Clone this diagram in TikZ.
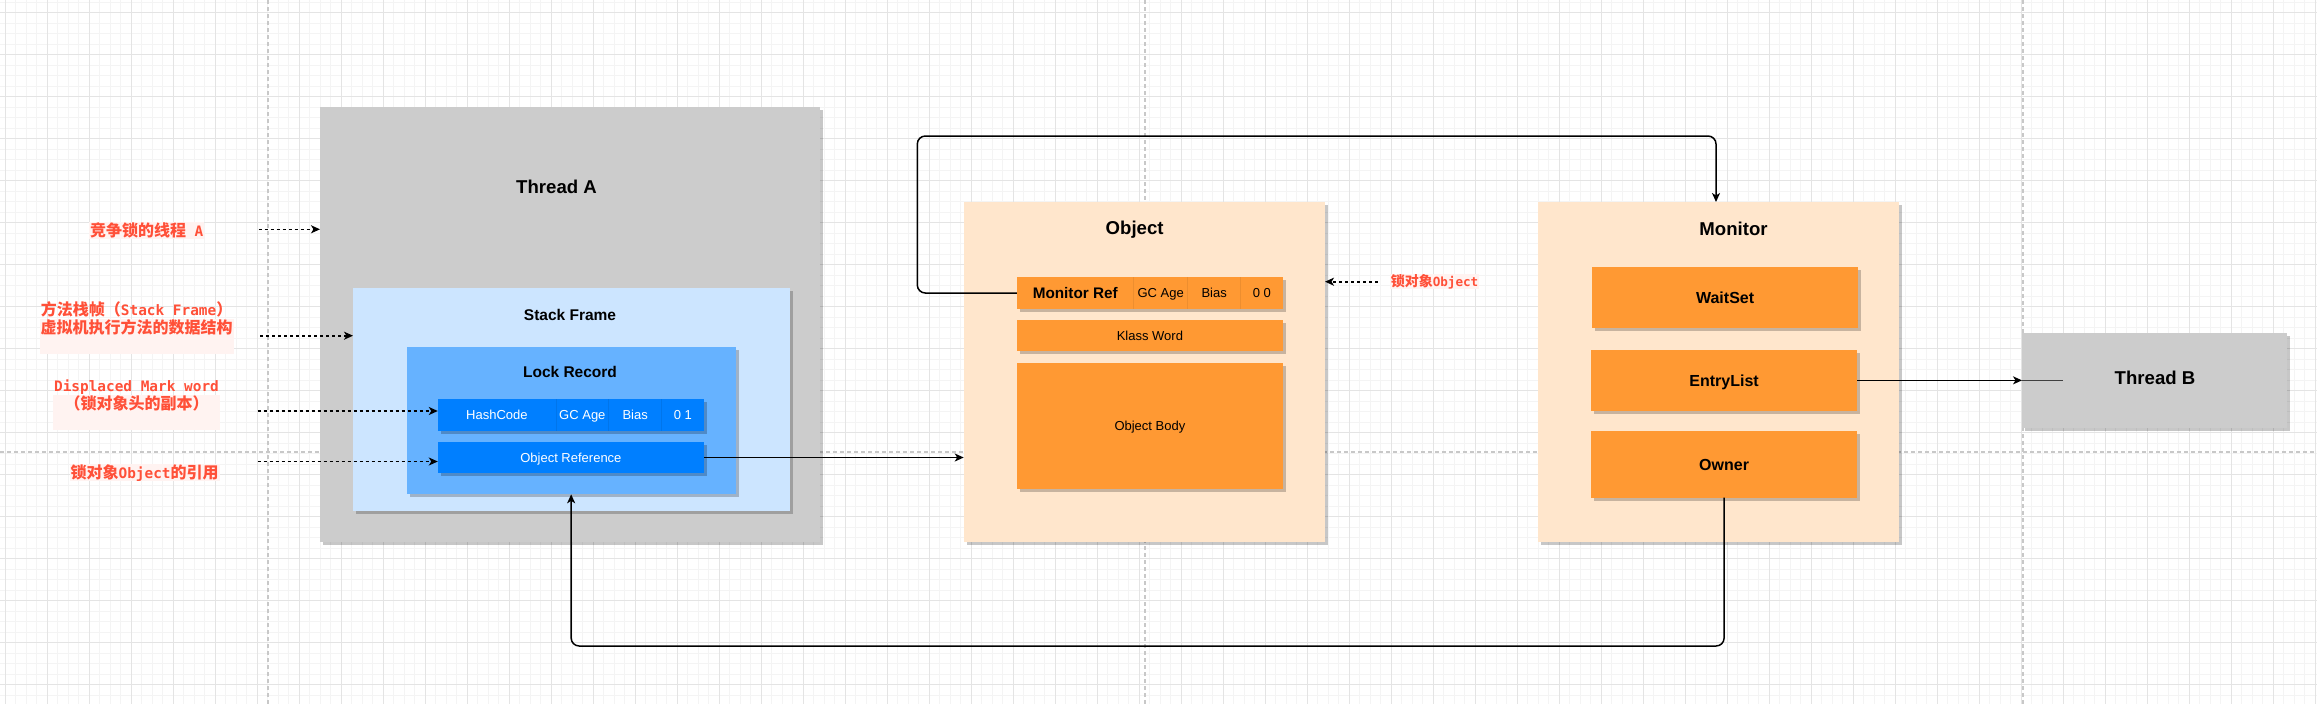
\documentclass[tikz,border=0pt]{standalone}
\usepackage{fontspec}
\setmainfont{Liberation Sans}
\newfontfamily\cjkf{Noto Sans CJK SC}
\newfontfamily\monof{DejaVu Sans Mono}[Scale=0.9]
\usetikzlibrary{arrows.meta,shadows,calc}
\definecolor{gridmin}{HTML}{F4F4F4}
\definecolor{gridmaj}{HTML}{E4E4E4}
\definecolor{pagebrk}{HTML}{C8C8C8}
\definecolor{thr}{HTML}{CCCCCC}
\definecolor{sfc}{HTML}{CCE5FF}
\definecolor{lrc}{HTML}{66B2FF}
\definecolor{bluec}{HTML}{007FFF}
\definecolor{peach}{HTML}{FFE6CC}
\definecolor{orng}{HTML}{FF9933}
\definecolor{lblc}{HTML}{FF5038}
\definecolor{lblbg}{HTML}{FFF3F1}
\tikzset{
  shd/.style={drop shadow={shadow xshift=3pt,shadow yshift=-3pt,fill=black,opacity=0.22}},
  box/.style={rectangle,inner sep=0pt,outer sep=0pt,shd},
  ttl/.style={inner sep=0pt,font=\bfseries\fontsize{18.6}{22}\selectfont,text height=13.3pt,text depth=0pt},
  sub/.style={inner sep=0pt,font=\bfseries\fontsize{15.5}{18}\selectfont,text height=11.1pt,text depth=0pt},
  btxt/.style={text=white,font=\fontsize{13}{15}\selectfont,text height=9.3pt,text depth=0pt},
  otxt/.style={text=black,font=\fontsize{13}{15}\selectfont,text height=9.3pt,text depth=0pt},
  mtxt/.style={text=black,font=\bfseries\fontsize{16}{18}\selectfont,text height=11.5pt,text depth=0pt},
  lbl/.style={text=lblc,fill=lblbg,inner xsep=1pt,inner ysep=1.5pt,align=center,font=\bfseries\fontsize{16}{18}\selectfont},
  divb/.style={line width=1pt,draw=bluec!92!black},
  divo/.style={line width=1pt,draw=orng!93!black},
  tip/.style={-{Stealth[length=9pt,width=8pt,inset=2.5pt]}},
  conn/.style={line width=1.5pt,tip},
  dotc/.style={line width=1.6pt,dash pattern=on 3pt off 3pt,tip},
}
\begin{document}
\begin{tikzpicture}[x=1pt,y=-1pt]
\useasboundingbox (0,0) rectangle (2317,704);
\fill[white] (0,0) rectangle (2317,704);
% grid
\foreach \k in {0,...,220} \draw[gridmin,line width=1pt] ({5.3+10.5*\k},0) -- ({5.3+10.5*\k},704);
\foreach \k in {-1,...,66} \draw[gridmin,line width=1pt] (0,{12.7+10.5*\k}) -- (2317,{12.7+10.5*\k});
\foreach \k in {0,...,55} \draw[gridmaj,line width=1pt] ({5.3+42*\k},0) -- ({5.3+42*\k},704);
\foreach \k in {0,...,16} \draw[gridmaj,line width=1pt] (0,{12.7+42*\k}) -- (2317,{12.7+42*\k});
% page breaks
\foreach \xx in {268,1145,2023} \draw[pagebrk,line width=1.3pt,dash pattern=on 4pt off 3pt] (\xx,0) -- (\xx,704);
\draw[pagebrk,line width=1.3pt,dash pattern=on 4pt off 3pt] (0,452) -- (2317,452);

% Thread A
\node[box,fill=thr,minimum width=500,minimum height=435.5] (ta) at (570,324.25) {};
\node[ttl] (tat) at (556.5,187) {Thread A};
\node[box,fill=sfc,minimum width=437,minimum height=223] (sf) at (571.5,399.2) {};
\node[sub] (sft) at (570,315) {Stack Frame};
\node[box,fill=lrc,minimum width=329.1,minimum height=147.6] (lr) at (571.15,420.5) {};
\node[sub] (lrt) at (570,372) {Lock Record};
\node[box,fill=bluec,minimum width=118.2,minimum height=31.4,btxt] (hc1) at (496.9,415) {HashCode};
\node[box,fill=bluec,minimum width=52.7,minimum height=31.4,btxt] (hc2) at (582.35,415) {GC Age};
\node[box,fill=bluec,minimum width=53,minimum height=31.4,btxt] (hc3) at (635.2,415) {Bias};
\node[box,fill=bluec,minimum width=42.3,minimum height=31.4,btxt] (hc4) at (682.85,415) {0 1};
\draw[divb] (hc1.north east) -- (hc1.south east);
\draw[divb] (hc2.north east) -- (hc2.south east);
\draw[divb] (hc3.north east) -- (hc3.south east);
\node[box,fill=bluec,minimum width=266.2,minimum height=31,btxt] (oref) at (570.9,457.5) {Object Reference};

% Object
\node[box,fill=peach,minimum width=361.3,minimum height=340.3] (obj) at (1144.35,372.15) {};
\node[ttl] (objt) at (1134.6,228.3) {Object};
\node[box,fill=orng,minimum width=116.9,minimum height=31.4,otxt,font=\bfseries\fontsize{15.3}{18}\selectfont,text height=11pt] (mr1) at (1075.25,293) {Monitor Ref};
\node[box,fill=orng,minimum width=53.9,minimum height=31.4,otxt] (mr2) at (1160.65,293) {GC Age};
\node[box,fill=orng,minimum width=53.1,minimum height=31.4,otxt] (mr3) at (1214.15,293) {Bias};
\node[box,fill=orng,minimum width=42.3,minimum height=31.4,otxt] (mr4) at (1261.85,293) {0 0};
\draw[divo] (mr1.north east) -- (mr1.south east);
\draw[divo] (mr2.north east) -- (mr2.south east);
\draw[divo] (mr3.north east) -- (mr3.south east);
\node[box,fill=orng,minimum width=266.2,minimum height=30.7,otxt] (kw) at (1149.9,335.35) {Klass Word};
\node[box,fill=orng,minimum width=266.2,minimum height=126.6,otxt] (ob) at (1149.9,426) {Object Body};

% Monitor
\node[box,fill=peach,minimum width=361.1,minimum height=340.4] (mon) at (1718.05,372.2) {};
\node[ttl] (mont) at (1733.5,228.6) {Monitor};
\node[box,fill=orng,minimum width=265.8,minimum height=60.7,mtxt] (ws) at (1725.1,297.55) {WaitSet};
\node[box,fill=orng,minimum width=265.8,minimum height=60.7,mtxt] (el) at (1724.1,380.35) {EntryList};
\node[box,fill=orng,minimum width=265.8,minimum height=66.6,mtxt] (own) at (1724.1,464.3) {Owner};

% Thread B
\node[box,fill=thr,minimum width=265,minimum height=94.5] (tb) at (2154.5,380.65) {};
\node[ttl] (tbt) at (2155,378) {Thread B};

% labels
\node[lbl,text height=13pt,text depth=0.8pt] (l1) at (146.7,230.7) {{\cjkf 竞争锁的线程}{\monof\ A}};
\node[lbl,text height=13pt,text depth=18.8pt] (l2) at (136.6,336.2) {{\cjkf 方法栈帧（}{\monof Stack Frame}{\cjkf ）}\\{\cjkf 虚拟机执行方法的数据结构}};
\node[lbl,text height=13pt,text depth=18.8pt] (l3) at (136.5,412.5) {{\monof Displaced Mark word}\\{\cjkf （锁对象头的副本）}};
\node[lbl,text height=13pt,text depth=0.8pt] (l4) at (144.6,472.7) {{\cjkf 锁对象}{\monof Object}{\cjkf 的引用}};
\node[lbl,font=\bfseries\fontsize{14}{16}\selectfont,text height=11.4pt,text depth=0.7pt] (l5) at (1434.5,281.5) {{\cjkf 锁对象}{\monof Object}};

% dotted pointers
\coordinate (c1) at (258.7,229.3);
\coordinate (c2) at (260,335.7);
\coordinate (c3) at (257.7,411);
\coordinate (c4) at (257.7,461.5);
\coordinate (c5) at (1377.5,281.7);
\draw[dotc] (c1) -- (c1 -| ta.west);
\draw[dotc] (c2) -- (c2 -| sf.west);
\draw[dotc] (c3) -- (c3 -| hc1.west);
\draw[dotc] (c4) -- (c4 -| oref.west);
\draw[dotc] (c5) -- (c5 -| obj.east);

% connectors
\draw[conn] (oref.east) -- (oref.east -| obj.west);
\coordinate (k1) at (917.3,136);
\coordinate (k1t) at (1716,0);
\draw[conn,rounded corners=8pt] (mr1.west) -| (k1) -| (k1t |- mon.north);
\coordinate (k2) at (0,646);
\draw[conn,rounded corners=8pt] (own.south) |- (k2 -| lr.south) -- (lr.south);
\coordinate (k3) at (2063,380.35);
\draw[conn] (el.east) -- (el.east -| tb.west);
\draw[line width=0.8pt,black!75] (el.east -| tb.west) -- (k3);
\end{tikzpicture}
\end{document}
